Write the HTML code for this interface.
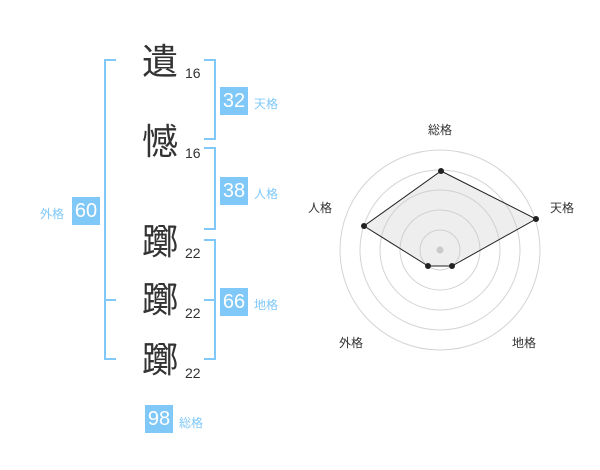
<!DOCTYPE html>
<html><head><meta charset="utf-8"><style>
body{margin:0;width:600px;height:470px;background:#fff;position:relative;overflow:hidden;font-family:"Liberation Sans","Noto Sans CJK JP",sans-serif}
.a{position:absolute}
.k{position:absolute;font-size:36px;color:#333;line-height:36px;width:40px;text-align:center;left:140px}
.n{position:absolute;font-size:14px;color:#333;left:185px}
.b{position:absolute;background:#7fc8f8;color:#fff;font-size:20px;width:28px;height:28px;line-height:28px;text-align:center}
.l{position:absolute;font-size:12px;color:#7fc8f8}
</style></head><body>
<svg class="a" style="left:0;top:0" width="600" height="470">
<g stroke="#7fc8f8" stroke-width="2" fill="none">
<path d="M116 60H105V359H116M105 300H116"/>
<path d="M204 60H215V139H204"/>
<path d="M204 148H215V229H204"/>
<path d="M204 240H215V359H204M204 300H215"/>
</g>
<g fill="none" stroke="#d4d4d4" stroke-width="1">
<circle cx="440" cy="250" r="100"/><circle cx="440" cy="250" r="80"/><circle cx="440" cy="250" r="60"/><circle cx="440" cy="250" r="40"/><circle cx="440" cy="250" r="20"/>
</g>
<circle cx="440" cy="250" r="3.5" fill="#ccc"/>
<polygon points="441,171 536,219 452,266 428,266 364,226" fill="rgba(200,200,200,0.3)" stroke="#222" stroke-width="1"/>
<g fill="#222"><circle cx="441" cy="171" r="3"/><circle cx="536" cy="219" r="3"/><circle cx="452" cy="266" r="3"/><circle cx="428" cy="266" r="3"/><circle cx="364" cy="226" r="3"/></g>
<g font-size="12" fill="#333" font-family="Liberation Sans,Noto Sans CJK JP,sans-serif" text-anchor="middle">
<text x="440" y="134">総格</text><text x="562" y="212">天格</text><text x="320" y="212">人格</text><text x="351" y="347">外格</text><text x="524" y="347">地格</text>
</g>
</svg>
<div class="k" style="top:44px">遺</div><div class="n" style="top:65px">16</div>
<div class="k" style="top:124px">憾</div><div class="n" style="top:145px">16</div>
<div class="k" style="top:224px">躑</div><div class="n" style="top:245px">22</div>
<div class="k" style="top:282px">躑</div><div class="n" style="top:305px">22</div>
<div class="k" style="top:342px">躑</div><div class="n" style="top:365px">22</div>
<div class="b" style="left:220px;top:87px">32</div><div class="l" style="left:254px;top:95px">天格</div>
<div class="b" style="left:220px;top:177px">38</div><div class="l" style="left:254px;top:185px">人格</div>
<div class="b" style="left:220px;top:288px">66</div><div class="l" style="left:254px;top:296px">地格</div>
<div class="b" style="left:72px;top:197px">60</div><div class="l" style="left:40px;top:205px">外格</div>
<div class="b" style="left:145px;top:405px">98</div><div class="l" style="left:179px;top:414px">総格</div>
</body></html>
